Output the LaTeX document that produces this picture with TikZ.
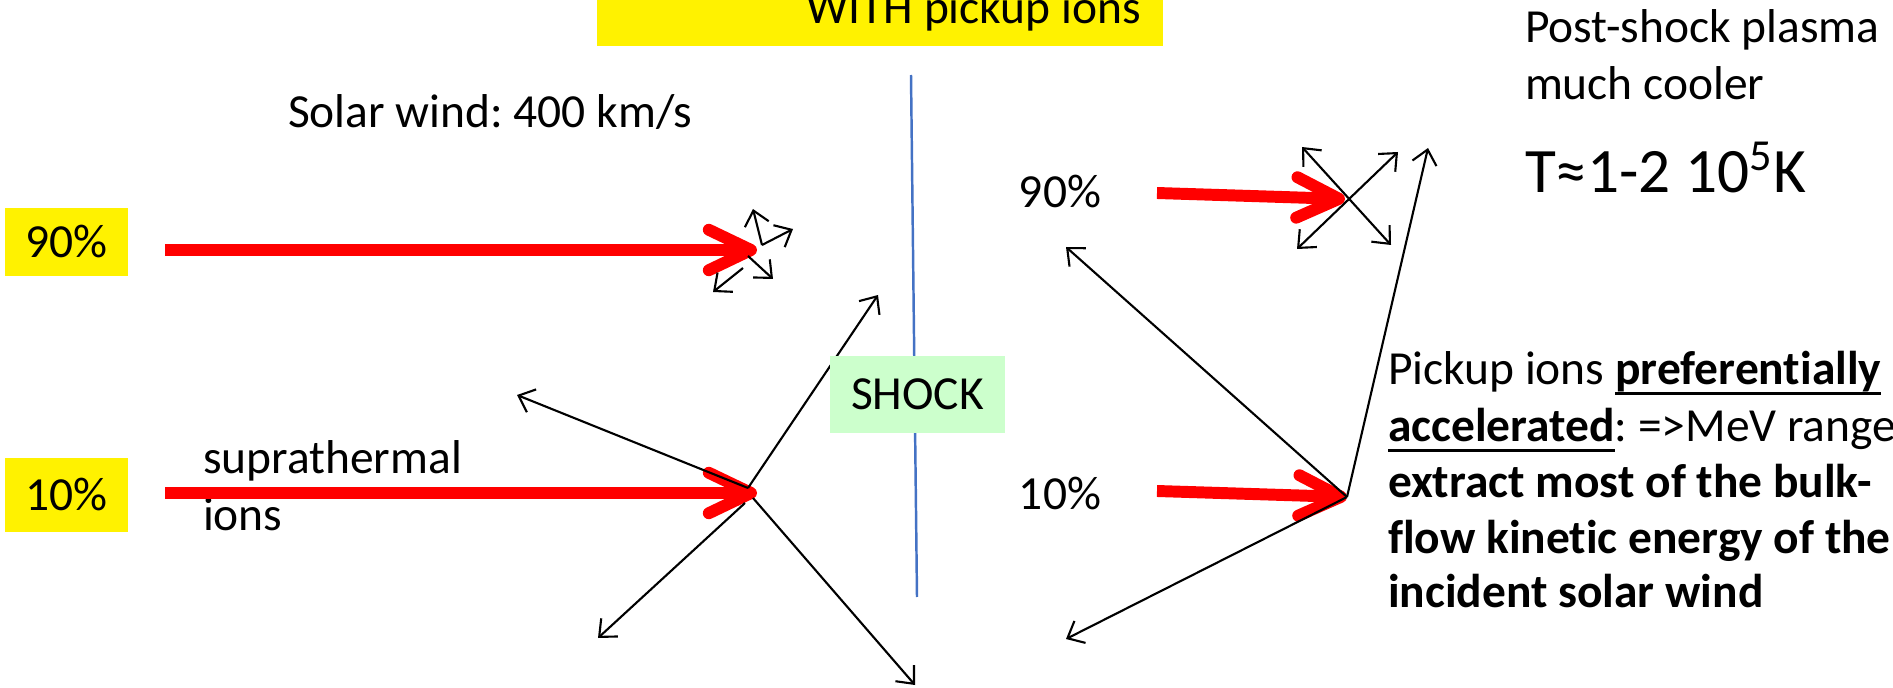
\documentclass[tikz,border=0pt]{standalone}
\usepackage{fontspec}
\setmainfont{Carlito}[Ligatures={NoCommon}]
\usetikzlibrary{arrows.meta}
\frenchspacing
% bold word with a low, firm underline
\newcommand\ulbf[1]{{\bfseries\setbox0\hbox{#1}\rlap{\rule[-2.8pt]{\wd0}{0.85pt}}\box0}}
\definecolor{shockblue}{HTML}{4472C4}
\definecolor{shockgreen}{HTML}{CCFFCC}
\begin{document}
\begin{tikzpicture}[x=0.01cm, y=-0.01cm,
  txt/.style={font=\fontsize{13.5}{16.2}\selectfont, inner sep=0pt, outer sep=0pt},
  bigtxt/.style={font=\fontsize{18}{21.6}\selectfont, inner sep=0pt, outer sep=0pt},
  ybox/.style={txt, fill=yellow, minimum width=1.23cm, anchor=center},
  flow/.style={draw=red, line width=3.4pt, -{Straight Barb[length=12pt,width=11.5pt,round]}},
  ray/.style={draw=black, line width=0.6pt, -{Straight Barb[length=4pt,width=7pt]}},
  twoway/.style={draw=black, line width=0.6pt, {Straight Barb[length=4pt,width=7pt]}-{Straight Barb[length=4pt,width=7pt]}},
  shockline/.style={draw=shockblue, line width=0.7pt}]
\useasboundingbox (0,0) rectangle (1893,688);

% heading strip at the top
\fill[yellow] (597,0) rectangle (1163,46);
\node[txt, anchor=base east] (head) at (1141,24) {WITH pickup ions};

% shock front
\coordinate (sTop) at (911,75);
\coordinate (sBot) at (917,597);
\draw[shockline] (sTop) -- (sBot);

% upstream side
\node[txt, anchor=base west] (sw) at (288,128) {Solar wind: 400 km/s};
\node[ybox, minimum height=0.68cm] (u90) at (66.5,242) {90\%};
\node[ybox, minimum height=0.74cm] (u10) at (66.5,495) {10\%};
\node[txt, anchor=base west] (supra) at (203,473) {suprathermal};
\node[txt, anchor=base west] (ions) at (203,530) {ions};

\coordinate (a90s) at (165,250);
\coordinate (a90t) at (757,250);
\coordinate (a10s) at (165,493);
\coordinate (a10t) at (757,493);
\draw[flow] (a90s) -- (a90t);
\draw[flow] (a10s) -- (a10t);

% thermal scatter of the core wind
\coordinate (c1) at (762,245);
\coordinate (c2) at (748,256);
\coordinate (c3) at (743,268);
\coordinate (t1) at (753,209);
\coordinate (t2) at (793,229);
\coordinate (t3) at (773,279);
\coordinate (t4) at (713,292);
\draw[ray] (c1) -- (t1);
\draw[ray] (c1) -- (t2);
\draw[ray] (c2) -- (t3);
\draw[ray] (c3) -- (t4);

% suprathermal ions reflected at the shock
\coordinate (d1) at (748,488);
\coordinate (d2) at (745,503);
\coordinate (d3) at (753,498);
\coordinate (e1) at (878,295);
\coordinate (e2) at (517,395);
\coordinate (e3) at (598,638);
\coordinate (e4) at (915,685);
\draw[ray] (d1) -- (e1);
\draw[ray] (d1) -- (e2);
\draw[ray] (d2) -- (e3);
\draw[ray] (d3) -- (e4);

\node[txt, fill=shockgreen, minimum width=1.75cm, minimum height=0.77cm] (shock) at (917.5,394.5) {SHOCK};

% downstream side
\node[txt] (d90) at (1060,192) {90\%};
\node[txt] (d10) at (1060,494) {10\%};
\coordinate (b90s) at (1157,193);
\coordinate (b90t) at (1345,199);
\coordinate (b10s) at (1157,491);
\coordinate (b10t) at (1347,497);
\draw[flow] (b90s) -- (b90t);
\draw[flow] (b10s) -- (b10t);

\coordinate (x1) at (1302,147);
\coordinate (x2) at (1391,245);
\coordinate (x3) at (1297,249);
\coordinate (x4) at (1398,152);
\draw[twoway] (x1) -- (x2);
\draw[twoway] (x3) -- (x4);

\coordinate (p1) at (1428,148);
\coordinate (p2) at (1066,247);
\coordinate (p3) at (1066,639);
\draw[ray] (b10t) -- (p1);
\draw[ray] (b10t) -- (p2);
\draw[ray] (b10t) -- (p3);

% notes
\node[txt, anchor=base west] (post1) at (1525,43) {Post-shock plasma};
\node[txt, anchor=base west] (post2) at (1525,100) {much cooler};
\node[bigtxt, anchor=base west] (temp) at (1525,193) {T≈1-2 10\textsuperscript{5}K};

\node[txt, anchor=base west] (n1) at (1388,385) {Pickup ions \ulbf{preferentially}};
\node[txt, anchor=base west] (n2) at (1388,442) {\ulbf{accelerated}: =>MeV range};
\node[txt, anchor=base west, font=\fontsize{13.5}{16.2}\selectfont\bfseries] (n3) at (1388,497) {extract most of the bulk-};
\node[txt, anchor=base west, font=\fontsize{13.5}{16.2}\selectfont\bfseries] (n4) at (1388,553) {flow kinetic energy of the};
\node[txt, anchor=base west, font=\fontsize{13.5}{16.2}\selectfont\bfseries] (n5) at (1388,607) {incident solar wind};
\end{tikzpicture}
\end{document}
